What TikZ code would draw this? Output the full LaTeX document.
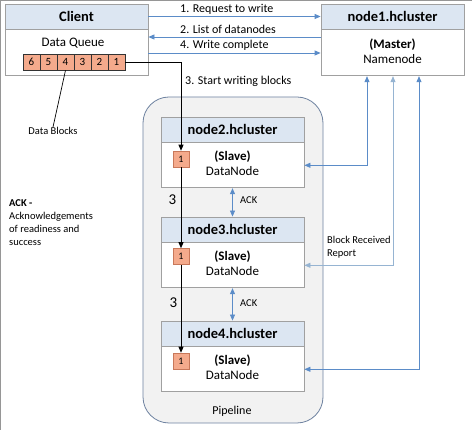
\documentclass[tikz,border=0pt]{standalone}
\usepackage{fontspec}
\setmainfont{Carlito}
\usetikzlibrary{arrows.meta,calc}
\definecolor{hdrfill}{RGB}{220,230,242}
\definecolor{boxline}{RGB}{160,160,160}
\definecolor{bl}{RGB}{91,140,200}
\definecolor{bllight}{RGB}{150,180,210}
\definecolor{pipefill}{RGB}{242,242,242}
\definecolor{pipeline}{RGB}{110,130,160}
\definecolor{blkfill}{RGB}{244,170,140}
\definecolor{blkline}{RGB}{200,120,90}
\definecolor{frame}{RGB}{150,150,150}
\tikzset{
  hdr/.style={draw=boxline, fill=hdrfill, line width=0.8pt, minimum width=143pt, minimum height=25pt, inner sep=0pt, font=\fontsize{14.5}{17}\selectfont\bfseries},
  bodybox/.style={draw=boxline, fill=white, line width=0.8pt, minimum width=143pt, inner sep=0pt, anchor=north},
  qblk/.style={draw=black!80, fill=blkfill, line width=0.7pt, minimum width=17pt, minimum height=16pt, inner sep=0pt, font=\fontsize{11}{12}\selectfont},
  dblk/.style={draw=blkline, fill=blkfill, line width=0.6pt, minimum width=16pt, minimum height=16pt, inner sep=0pt, font=\fontsize{10}{11}\selectfont},
  bodytxt/.style={font=\fontsize{13}{15.5}\selectfont, align=center, inner sep=0pt},
  lbl/.style={font=\fontsize{12}{14}\selectfont, inner sep=0pt, anchor=west},
  small/.style={font=\fontsize{11}{13}\selectfont, inner sep=0pt},
  barrow/.style={draw=bl, line width=0.8pt, -{Triangle[length=6pt,width=5pt]}},
  dbarrow/.style={draw=bl, line width=0.8pt, {Triangle[length=6pt,width=5pt]}-{Triangle[length=6pt,width=5pt]}},
  blkarrow/.style={draw=black, line width=0.9pt, -{Triangle[length=6pt,width=5pt]}},
}
\begin{document}
\begin{tikzpicture}[x=1pt,y=-1pt]
\useasboundingbox[fill=white] (0,0) rectangle (472,430);
\draw[frame, line width=1.2pt] (0.6,430) -- (0.6,0.6) -- (472,0.6);

% Client
\node[hdr] (ch) at (76.5,16.5) {Client};
\node[bodybox, minimum height=46pt] (cb) at (ch.south) {};
\node[bodytxt] (dq) at (73,43) {Data Queue};
\node[qblk] (q6) at (31.5,62) {6};
\node[qblk] (q5) at (48.5,62) {5};
\node[qblk] (q4) at (65.5,62) {4};
\node[qblk] (q3) at (82.5,62) {3};
\node[qblk] (q2) at (99.5,62) {2};
\node[qblk] (q1) at (116.5,62) {1};

% Namenode
\node[hdr] (nh) at (392.5,16.5) {node1.hcluster};
\node[bodybox, minimum height=46pt] (nb) at (nh.south) {};
\node[bodytxt] (nt) at (392.5,51) {\textbf{(Master)}\\Namenode};

% Client <-> Namenode arrows
\draw[barrow] (ch.east) -- (nh.west);
\draw[barrow] (nb.west |- 0,37) -- (cb.east |- 0,37);
\draw[barrow] (cb.east |- 0,53) -- (nb.west |- 0,53);
\node[lbl] (l1) at (180,9.5) {1. Request to write};
\node[lbl] (l2) at (180,29) {2. List of datanodes};
\node[lbl] (l4) at (180,45.5) {4. Write complete};
\node[lbl] (l3) at (185,81) {3. Start writing blocks};

% Pipeline
\node[draw=pipeline, fill=pipefill, line width=0.8pt, rounded corners=26pt, minimum width=180pt, minimum height=326pt, inner sep=0pt] (pipe) at (233,260) {};
\node[small, font=\fontsize{12}{14}\selectfont] (pl) at (232,411) {Pipeline};

% DataNodes
\node[hdr] (d2h) at (232.5,129.5) {node2.hcluster};
\node[bodybox, minimum height=45pt] (d2b) at (d2h.south) {};
\node[bodytxt] (d2t) at (232.5,163) {\textbf{(Slave)}\\DataNode};
\node[dblk] (b2) at (181,159) {1};

\node[hdr] (d3h) at (232.5,229.5) {node3.hcluster};
\node[bodybox, minimum height=45pt] (d3b) at (d3h.south) {};
\node[bodytxt] (d3t) at (232.5,263) {\textbf{(Slave)}\\DataNode};
\node[dblk] (b3) at (181,256.5) {1};

\node[hdr] (d4h) at (232.5,333.5) {node4.hcluster};
\node[bodybox, minimum height=45pt] (d4b) at (d4h.south) {};
\node[bodytxt] (d4t) at (232.5,367) {\textbf{(Slave)}\\DataNode};
\node[dblk] (b4) at (181,361) {1};

% ACK arrows
\draw[dbarrow] (d2b.south) -- (d3h.north);
\draw[dbarrow] (d3b.south) -- (d4h.north);
\node[small, font=\fontsize{10.5}{12}\selectfont, anchor=west] (a1) at (240,200) {ACK};
\node[small, font=\fontsize{10.5}{12}\selectfont, anchor=west] (a2) at (240,303) {ACK};

% black data path
\draw[blkarrow] (q1.east) -| (b2.north);
\draw[blkarrow] (b2.south) -- (b3.north);
\draw[blkarrow] (b3.south) -- (b4.north);
\node[font=\fontsize{15}{17}\selectfont, inner sep=0pt] (t1) at (172.5,200) {3};
\node[font=\fontsize{15}{17}\selectfont, inner sep=0pt] (t2) at (173.5,303) {3};

% Block received reports
\draw[dbarrow] (nb.south -| 367,0) |- (d2b.east);
\draw[dbarrow, draw=bllight] (nb.south -| 393,0) |- (d3b.east);
\draw[dbarrow] (nb.south -| 419,0) |- (d4b.east);
\node[small, anchor=north west, align=left, font=\fontsize{10.5}{13}\selectfont] (brr) at (327,236) {Block Received\\Report};

% Data blocks label
\node[small, font=\fontsize{10.5}{12}\selectfont] (dbl) at (53,131) {Data Blocks};
\draw[black, line width=0.7pt] (q4.south) -- (dbl.north);

% ACK legend
\node[small, anchor=north west, align=left, font=\fontsize{10.5}{13}\selectfont] (leg) at (9,199) {\textbf{ACK -}\\Acknowledgements\\of readiness and\\success};
\end{tikzpicture}
\end{document}
